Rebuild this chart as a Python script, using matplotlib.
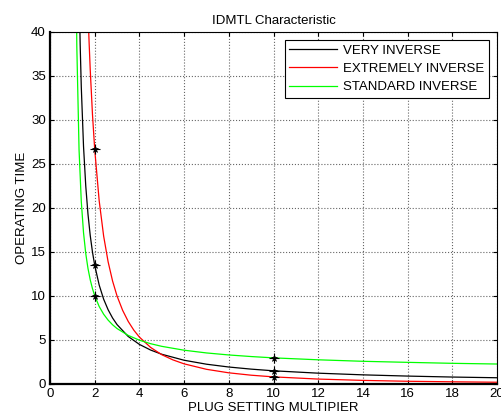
import matplotlib
matplotlib.use('Agg')
import matplotlib.pyplot as plt

plt.rcParams['font.family'] = ['Liberation Sans', 'DejaVu Sans']

# plug setting multiplier vs operating time
psm_si = [1.15, 1.2, 1.3, 1.4, 1.5, 1.6, 1.7, 1.8, 1.9, 2.0, 2.2, 2.4, 2.6, 2.8, 3.0,
          3.5, 4.0, 4.5, 5, 6, 7, 8, 9, 10, 12, 14, 16, 18, 20]
t_si = [50.0, 38.32, 26.61, 20.73, 17.19, 14.82, 13.12, 11.84, 10.84, 10.03, 8.81, 7.93,
        7.26, 6.73, 6.30, 5.52, 4.98, 4.58, 4.28, 3.84, 3.53, 3.30, 3.12, 2.97, 2.75,
        2.58, 2.46, 2.35, 2.27]

psm_vi = [1.3, 1.35, 1.4, 1.5, 1.6, 1.7, 1.8, 1.9, 2.0, 2.2, 2.4, 2.6, 2.8, 3.0, 3.5,
          4.0, 4.5, 5, 6, 7, 8, 9, 10, 12, 14, 16, 18, 20]
t_vi = [45.0, 38.57, 33.75, 27.0, 22.5, 19.29, 16.88, 15.0, 13.5, 11.25, 9.64, 8.44,
        7.5, 6.75, 5.4, 4.5, 3.86, 3.38, 2.7, 2.25, 1.93, 1.69, 1.5, 1.23, 1.04, 0.9,
        0.79, 0.71]

psm_ei = [1.7, 1.75, 1.8, 1.9, 2.0, 2.2, 2.4, 2.6, 2.8, 3.0, 3.25, 3.5, 3.75, 4.0, 4.5,
          5, 5.5, 6, 7, 8, 9, 10, 12, 14, 16, 18, 20]
t_ei = [42.3, 38.79, 35.71, 30.65, 26.67, 20.83, 16.81, 13.89, 11.70, 10.0, 8.37, 7.11,
        6.12, 5.33, 4.16, 3.33, 2.74, 2.29, 1.67, 1.27, 1.0, 0.81, 0.56, 0.41, 0.31,
        0.25, 0.20]

# marked points at PSM 2 and 10
mark_psm = [2, 2, 2, 10, 10, 10]
mark_t = [13.5, 26.67, 10.03, 1.5, 0.81, 2.97]

fs = 9.5

fig = plt.figure(figsize=(5.01, 4.18), dpi=100)
ax = fig.add_axes([50 / 501, 34 / 418, 447 / 501, 352 / 418])

ax.plot(psm_vi, t_vi, color='k', lw=0.9, label='VERY INVERSE')
ax.plot(psm_ei, t_ei, color='#ff0000', lw=0.9, label='EXTREMELY INVERSE')
ax.plot(psm_si, t_si, color='#00ff00', lw=0.9, label='STANDARD INVERSE')
ax.plot(mark_psm, mark_t, linestyle='none', marker='*', color='k', ms=5, mew=0.5)
ax.plot(mark_psm, mark_t, linestyle='none', marker='+', color='k', ms=7, mew=0.8)

ax.set_xlim(0, 20)
ax.set_ylim(0, 40)
ax.set_xticks(range(0, 21, 2))
ax.set_yticks(range(0, 41, 5))
ax.grid(True, color='0.4', linestyle=':', linewidth=0.8)
ax.tick_params(direction='in', labelsize=fs, top=True, right=True, length=3, pad=3)
for side in ['left', 'bottom']:
    ax.spines[side].set_linewidth(1.6)
for side in ['top', 'right']:
    ax.spines[side].set_linewidth(0.8)

ax.set_title('IDMTL Characteristic', fontsize=fs, pad=6)
ax.set_xlabel('PLUG SETTING MULTIPIER', fontsize=fs, labelpad=1)
ax.set_ylabel('OPERATING TIME', fontsize=fs, labelpad=2)

leg = ax.legend(loc='upper right', fontsize=fs, fancybox=False, framealpha=1,
                edgecolor='k', borderaxespad=0.6, handlelength=3.6,
                labelspacing=0.45, borderpad=0.35, handletextpad=0.5)
leg.get_frame().set_linewidth(0.8)

fig.savefig('out.png', dpi=100)
